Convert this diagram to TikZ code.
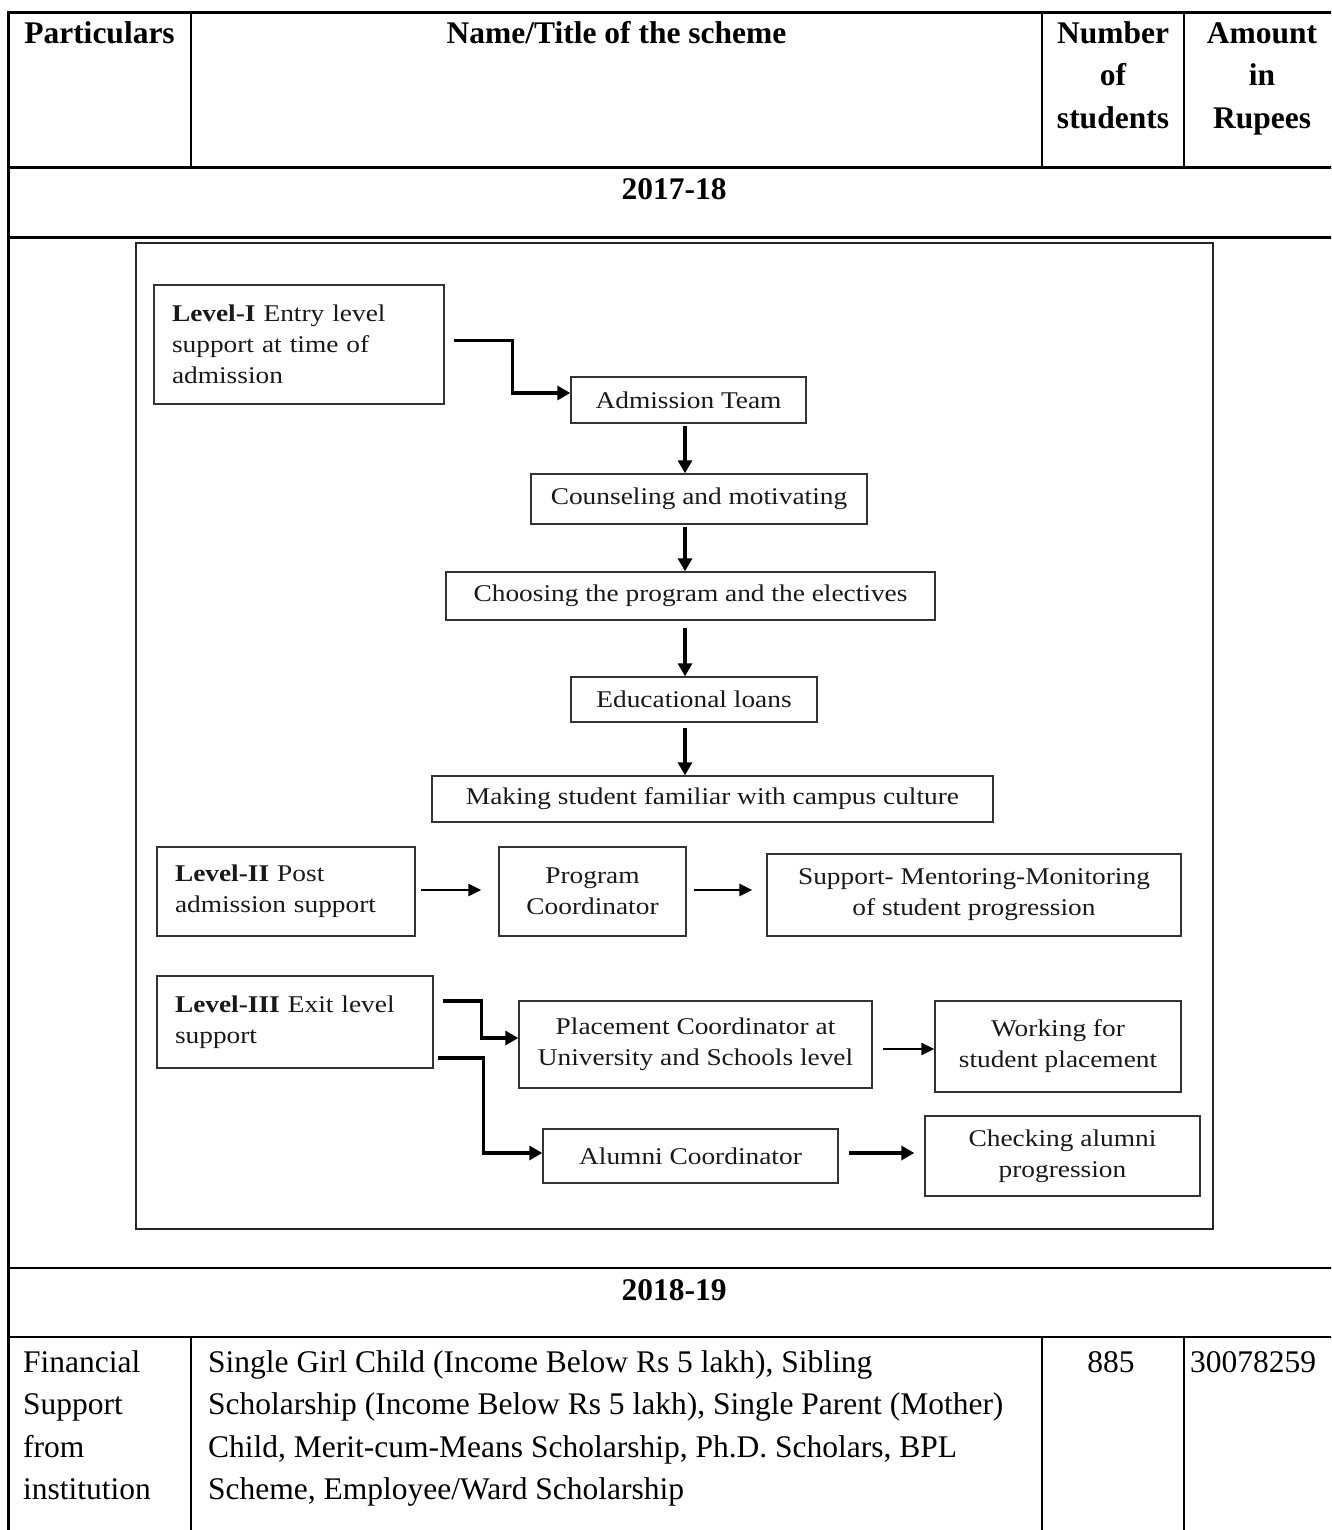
\documentclass[tikz,border=0pt]{standalone}
\usepackage{fontspec}
\setmainfont{Liberation Serif}
\newfontfamily\flowfam[FakeStretch=1.14]{Liberation Serif}
\usetikzlibrary{arrows.meta,calc}

\newcommand\CL[1]{\vtop{\baselineskip=42.5pt\halign{\hfil##\hfil\cr#1\crcr}}}
\newcommand\LL[1]{\vtop{\baselineskip=42.5pt\halign{##\hfil\cr#1\crcr}}}

\tikzset{
 tline/.style={line width=2.6pt, black, line cap=rect},
 frameline/.style={line width=2pt, draw=black!85},
 thead/.style={font=\fontsize{31.5pt}{42.5pt}\selectfont\bfseries, inner sep=0pt},
 tbody/.style={font=\fontsize{31.5pt}{42.5pt}\selectfont, inner sep=0pt},
 fbox/.style={draw=black!80, line width=1.4pt, inner sep=0pt,
   font=\flowfam\fontsize{24pt}{31pt}\selectfont, text=black!90, align=center},
 lbox/.style={fbox, align=left, inner xsep=18pt},
 arrA/.style={line width=3.3pt, line join=miter, -{Triangle[length=13pt,width=14pt]}},
 arrB/.style={line width=2.4pt, -{Triangle[length=13pt,width=12pt]}},
}

\begin{document}
\begin{tikzpicture}[x=1pt, y=-1pt]
\useasboundingbox (0,0) rectangle (1331,1530);
\fill[white] (0,0) rectangle (1331,1530);
\clip (0,0) rectangle (1331,1530);

% table rules
\draw[tline] (8.5,12.7) -- (1345,12.7);
\draw[tline] (8.5,167.3) -- (1345,167.3);
\draw[tline] (8.5,237.7) -- (1345,237.7);
\draw[tline] (8.5,1268) -- (1345,1268);
\draw[tline] (8.5,1337) -- (1345,1337);
\draw[tline] (8.5,12.7) -- (8.5,1540);
\foreach \cx in {191,1042,1184}{
  \draw[tline] (\cx,12.7) -- (\cx,167.3);
  \draw[tline] (\cx,1337) -- (\cx,1540);
}

% header
\node[thead, anchor=base] (hPart) at (99.5,43.3) {Particulars};
\node[thead, anchor=base] (hName) at (616.5,43.3) {Name/Title of the scheme};
\node[thead, anchor=base] (hNum) at (1113,43.3) {\CL{Number\cr of\cr students}};
\node[thead, anchor=base] (hAmt) at (1262,43.3) {\CL{Amount\cr in\cr Rupees}};

\node[thead, anchor=base] (yA) at (674,200) {2017-18};
\node[thead, anchor=base] (yB) at (674,1300) {2018-19};

% body row
\node[tbody, anchor=base west] (bPart) at (23,1372) {\LL{Financial\cr Support\cr from\cr institution}};
\node[tbody, anchor=base west] (bName) at (208,1372) {\LL{Single Girl Child (Income Below Rs 5 lakh), Sibling\cr
Scholarship (Income Below Rs 5 lakh), Single Parent (Mother)\cr
Child, Merit-cum-Means Scholarship, Ph.D. Scholars, BPL\cr
Scheme, Employee/Ward Scholarship}};
\node[tbody, anchor=base] (bNum) at (1111,1372) {885};
\node[tbody, anchor=base west] (bAmt) at (1190,1372) {30078259};

% flowchart frame
\draw[frameline] (136,243) rectangle (1213,1229);

% flowchart boxes
\node[lbox, minimum width=290pt, minimum height=119pt, text width=254pt] (L1) at (299,344.5)
  {\textbf{Level-I} Entry level\\support at time of\\admission};
\node[fbox, minimum width=235pt, minimum height=46pt] (AT) at (688.5,400) {Admission Team};
\node[fbox, minimum width=336pt, minimum height=50pt] (CM) at (699,499) {Counseling and motivating};
\node[fbox, minimum width=489pt, minimum height=48pt] (CP) at (690.5,596) {Choosing the program and the electives};
\node[fbox, minimum width=246pt, minimum height=45pt] (EL) at (694,699.5) {Educational loans};
\node[fbox, minimum width=561pt, minimum height=46pt] (MS) at (712.5,799) {Making student familiar with campus culture};

\node[lbox, minimum width=258pt, minimum height=89pt, text width=222pt] (L2) at (286,891.5)
  {\textbf{Level-II} Post\\admission support};
\node[fbox, minimum width=187pt, minimum height=89pt] (PC) at (592.5,891.5) {Program\\Coordinator};
\node[fbox, minimum width=414pt, minimum height=82pt] (SM) at (974,895) {Support- Mentoring-Monitoring\\of student progression};

\node[lbox, minimum width=276pt, minimum height=92pt, text width=240pt] (L3) at (295,1022)
  {\textbf{Level-III} Exit level\\support};
\node[fbox, minimum width=353pt, minimum height=87pt] (PL) at (695.5,1044.5) {Placement Coordinator at\\University and Schools level};
\node[fbox, minimum width=246pt, minimum height=91pt] (WS) at (1058,1046.5) {Working for\\student placement};
\node[fbox, minimum width=295pt, minimum height=54pt] (AC) at (690.5,1156) {Alumni Coordinator};
\node[fbox, minimum width=275pt, minimum height=80pt] (CA) at (1062.5,1156) {Checking alumni\\progression};

% connectors
\coordinate (spine) at (685,0);
\draw[arrA] ($(L1.east)+(9,-4)$) -- ++(59,0) |- ($(AT.west)+(0,-7)$);
\draw[arrA, shorten <=2pt] (AT.south -| spine) -- (CM.north -| spine);
\draw[arrA, shorten <=2pt] (CM.south -| spine) -- (CP.north -| spine);
\draw[arrA, shorten <=7pt] (CP.south -| spine) -- (EL.north -| spine);
\draw[arrA, shorten <=5pt] (EL.south -| spine) -- (MS.north -| spine);

\draw[arrB] ($(L2.east)+(5,-1.5)$) -- ($(PC.west)+(-17,-1.5)$);
\draw[arrB] ($(PC.east)+(7,-1.5)$) -- ($(SM.west)+(-14,-5)$);

\draw[arrA] ($(L3.east)+(9,-21)$) -- ++(39,0) |- ($(PL.west)+(0,-6.5)$);
\draw[arrA] ($(L3.east)+(4,36)$) -- ++(46,0) |- ($(AC.west)+(0,-3)$);
\draw[arrB] ($(PL.east)+(10,4.5)$) -- ($(WS.west)+(0,2.5)$);
\draw[arrA] ($(AC.east)+(10,-3)$) -- ($(CA.west)+(-10,-3)$);
\end{tikzpicture}
\end{document}
